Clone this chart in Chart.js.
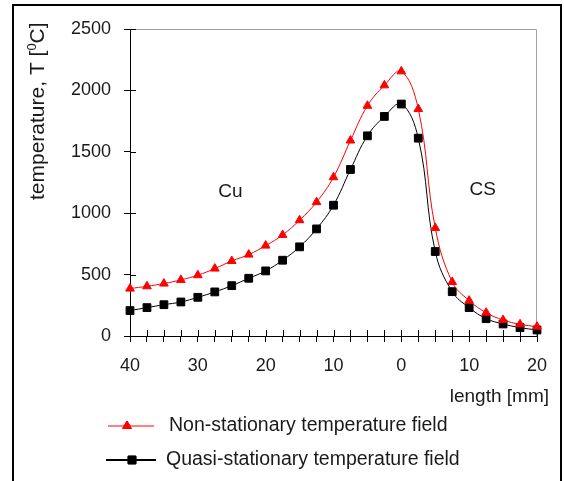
<!DOCTYPE html>
<html>
<head>
<meta charset="utf-8">
<script src="https://cdn.jsdelivr.net/npm/chart.js@4.4.1/dist/chart.umd.min.js"></script>
<style>
  html, body { margin: 0; padding: 0; background: #fff; }
  #wrap { width: 564px; height: 481px; }
</style>
</head>
<body>
<div id="wrap"><canvas id="chart" width="564" height="481"></canvas></div>
<script>
// distance from the joint line, mm (negative = Cu side, positive = CS side)
const positionMm = [-40, -37.5, -35, -32.5, -30, -27.5, -25, -22.5, -20, -17.5, -15, -12.5,
  -10, -7.5, -5, -2.5, 0, 2.5, 5, 7.5, 10, 12.5, 15, 17.5, 20];

const nonStationary = [386, 405, 427, 457, 495, 549, 611, 663, 736, 823, 943, 1090,
  1293, 1592, 1875, 2041, 2155, 1848, 880, 440, 288, 190, 130, 95, 76];

const quasiStationary = [207, 231, 255, 277, 315, 359, 410, 470, 530, 617, 726, 872,
  1065, 1356, 1630, 1788, 1889, 1611, 688, 361, 231, 141, 98, 68, 49];

const seriesNames = ['Non-stationary temperature field', 'Quasi-stationary temperature field'];
const yTicks = [0, 500, 1000, 1500, 2000, 2500];
const xLabelStep = 10;

const FONT = '"Liberation Sans", Arial, sans-serif';
const TEXT = '#1a1a1a';

// frame, inner tick halves, titles, region labels and legend
const decor = {
  id: 'decor',
  beforeDatasetsDraw(chart) {
    const { ctx, chartArea: a } = chart;
    ctx.save();
    ctx.strokeStyle = '#a0a0a0';
    ctx.lineWidth = 1;
    ctx.beginPath();
    ctx.moveTo(a.left, a.top + 0.5);
    ctx.lineTo(a.right - 0.5, a.top + 0.5);
    ctx.lineTo(a.right - 0.5, a.bottom);
    ctx.stroke();

    // tick marks also go inside the plot
    ctx.strokeStyle = '#000';
    ctx.beginPath();
    chart.scales.x.ticks.forEach(t => {
      const px = Math.round(chart.scales.x.getPixelForValue(t.value)) + 0.5;
      ctx.moveTo(px, a.bottom);
      ctx.lineTo(px, a.bottom - 6);
    });
    chart.scales.y.ticks.forEach(t => {
      const py = Math.round(chart.scales.y.getPixelForValue(t.value)) + 0.5;
      ctx.moveTo(a.left, py);
      ctx.lineTo(a.left + 6, py);
    });
    ctx.stroke();
    ctx.restore();
  },
  afterDraw(chart) {
    const { ctx } = chart;
    const xs = chart.scales.x, ys = chart.scales.y;
    ctx.save();

    // outer frame
    ctx.strokeStyle = '#000';
    ctx.lineWidth = 2;
    ctx.strokeRect(13, 5, 548, 520);

    ctx.fillStyle = TEXT;

    // y title with superscript
    ctx.save();
    ctx.translate(38, 200);
    ctx.rotate(-Math.PI / 2);
    ctx.textBaseline = 'middle';
    ctx.textAlign = 'left';
    ctx.font = '21px ' + FONT;
    const part1 = 'temperature, T [';
    ctx.fillText(part1, 0, 0);
    let w = ctx.measureText(part1).width;
    ctx.font = '13px ' + FONT;
    ctx.fillText('0', w, -6);
    w += ctx.measureText('0').width;
    ctx.font = '21px ' + FONT;
    ctx.fillText('C]', w, 0);
    ctx.restore();

    // region labels
    ctx.font = '19px ' + FONT;
    ctx.textAlign = 'center';
    ctx.textBaseline = 'middle';
    ctx.fillText('Cu', xs.getPixelForValue(-25.2), ys.getPixelForValue(1171));
    ctx.fillText('CS', xs.getPixelForValue(12), ys.getPixelForValue(1190));

    // x title
    ctx.textAlign = 'right';
    ctx.fillText('length [mm]', 549, 397);

    // legend
    const ds = chart.data.datasets;
    const rows = [
      { y: 426, x0: 108, x1: 154, mx: 127, tx: 169 },
      { y: 460, x0: 106, x1: 156, mx: 132, tx: 166 }
    ];
    rows.forEach((r, i) => {
      const d = ds[i];
      ctx.strokeStyle = d.borderColor;
      ctx.lineWidth = i === 0 ? 1 : 2;
      ctx.beginPath();
      ctx.moveTo(r.x0, r.y);
      ctx.lineTo(r.x1, r.y);
      ctx.stroke();
      ctx.lineWidth = 1;
      Chart.helpers.drawPoint(ctx, {
        pointStyle: d.pointStyle, radius: d.pointRadius, borderWidth: 1, rotation: 0
      }, r.mx, r.y);
      ctx.fillStyle = d.pointBackgroundColor;
      ctx.strokeStyle = d.pointBorderColor;
      ctx.fill();
      ctx.stroke();
      ctx.fillStyle = TEXT;
      ctx.textAlign = 'left';
      ctx.textBaseline = 'middle';
      ctx.font = '19.5px ' + FONT;
      ctx.fillText(seriesNames[i], r.tx, r.y);
    });
    ctx.restore();
  }
};

new Chart(document.getElementById('chart'), {
  type: 'line',
  data: {
    datasets: [
      {
        label: seriesNames[0],
        data: positionMm.map((x, i) => ({ x, y: nonStationary[i] })),
        borderColor: '#ff0000',
        borderWidth: 1,
        pointStyle: 'triangle',
        pointRadius: 5,
        pointBackgroundColor: '#ff0000',
        pointBorderColor: '#ff0000',
        pointBorderWidth: 1,
        tension: 0.4,
        clip: false
      },
      {
        label: seriesNames[1],
        data: positionMm.map((x, i) => ({ x, y: quasiStationary[i] })),
        borderColor: '#000000',
        borderWidth: 1,
        pointStyle: 'rect',
        pointRadius: 5.5,
        pointBackgroundColor: '#000000',
        pointBorderColor: '#000000',
        pointBorderWidth: 1,
        tension: 0.4,
        clip: false
      }
    ]
  },
  options: {
    responsive: false,
    animation: false,
    layout: { padding: { left: 0, right: 27, top: 29, bottom: 0 } },
    plugins: { legend: { display: false }, tooltip: { enabled: false } },
    scales: {
      x: {
        type: 'linear',
        min: -40,
        max: 20,
        afterFit: s => { s.height = 145; },
        afterBuildTicks: s => {
          s.ticks = positionMm.map(v => ({ value: v }));
        },
        ticks: {
          autoSkip: false,
          maxRotation: 0,
          padding: 13,
          color: TEXT,
          font: { family: FONT, size: 18 },
          callback: v => (v % xLabelStep === 0 ? String(Math.abs(v)) : '')
        },
        grid: { drawOnChartArea: false, tickLength: 6, color: '#000' },
        border: { color: '#000', width: 1 }
      },
      y: {
        min: 0,
        max: 2500,
        afterFit: s => { s.width = 130; },
        afterBuildTicks: s => {
          s.ticks = yTicks.map(v => ({ value: v }));
        },
        ticks: {
          padding: 13,
          color: TEXT,
          font: { family: FONT, size: 18 },
          callback: v => String(v)
        },
        grid: { drawOnChartArea: false, tickLength: 6, color: '#000' },
        border: { color: '#000', width: 1 }
      }
    }
  },
  plugins: [decor]
});
</script>
</body>
</html>
